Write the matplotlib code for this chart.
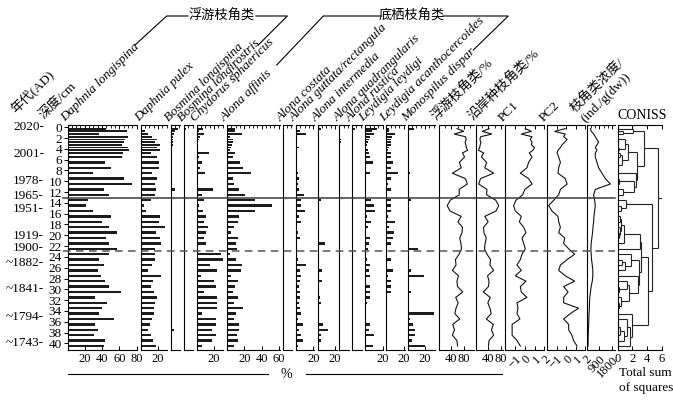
import numpy as np
import matplotlib.pyplot as plt
from matplotlib.lines import Line2D
from matplotlib.collections import LineCollection
from matplotlib.transforms import blended_transform_factory
from matplotlib.ticker import MultipleLocator

plt.rcParams['font.family'] = ['Liberation Serif', 'Noto Sans CJK SC']
plt.rcParams['font.size'] = 9
plt.rcParams['axes.linewidth'] = 0.8

# sample depths (cm)
depth = [0.25, 0.75, 1.25, 1.75, 2.25, 2.75, 3.25, 3.75, 4.25, 4.75,
         5.5, 6.5, 7.5, 8.5, 9.5, 10.5, 11.5, 12.5, 13.5, 14.5,
         15.5, 16.5, 17.5, 18.5, 19.5, 20.5, 21.5, 22.5, 23.5, 24.5,
         25.5, 26.5, 27.5, 28.5, 29.5, 30.5, 31.5, 32.5, 33.5, 34.5,
         35.5, 36.5, 37.5, 38.5, 39.5, 40.5]

age_labels = ['2020', '2001', '1978', '1965', '1951', '1919', '1900',
              '~1882', '~1841', '~1794', '~1743']
age_depth = [0, 5, 10, 12.7, 15.2, 20.2, 22.4, 25.2, 30, 35.1, 39.9]

# taxa (%)
d_longispina = [45, 69, 37, 70, 67, 65, 63, 70, 71, 64, 63, 44, 50, 30, 66, 75, 42, 48, 24, 22,
                29, 50, 40, 48, 57, 45, 48, 57, 48, 36, 42, 35, 39, 44, 48, 62, 32, 46, 40, 36,
                54, 32, 35, 31, 44, 42]
d_pulex = [2, 5, 8, 13, 19, 17, 22, 19, 22, 12, 19, 21, 21, 13, 19, 17, 18, 16, 12, 4,
           6, 22, 21, 28, 18, 22, 23, 16, 17, 17, 13, 8, 24, 14, 12, 15, 19, 16, 15, 15,
           13, 11, 9, 12, 14, 18]
b_longispina = [9, 5, 4, 3, 2.5, 3, 2.5, 0, 0, 0, 1, 1, 1, 0, 1, 0, 5, 2, 0, 0,
                0, 0, 0, 0, 0, 0, 0, 0, 0, 0, 0, 0, 0, 0, 0, 0, 2, 0, 0, 0,
                0, 1, 4, 0, 0, 0]
b_longirostris = [2, 1, 0, 0, 0, 0, 0, 0, 0, 0, 0, 0, 0, 0, 0, 0, 0, 0, 0, 0,
                  0, 0, 0, 0, 0, 0, 0, 0, 0, 0, 0, 0, 0, 0, 0, 0, 1, 0, 0, 0,
                  0, 0, 1, 0, 0, 0]
c_sphaericus = [7, 3, 8.5, 4, 3, 2, 2, 2, 1, 14, 3, 6, 4, 10, 1, 0, 19, 6, 9, 3,
                7, 11, 8, 13.5, 10.5, 8.5, 11, 2, 28, 31, 15.5, 23, 4.6, 20, 22.5, 8, 23, 23, 23, 6.5,
                22.5, 22.5, 17.5, 22.5, 17.5, 6]
a_affinis = [9, 9, 17, 3, 6.5, 6.5, 6, 5, 3, 9, 6.5, 15, 19, 28, 6.5, 8, 13.5, 20.5, 33, 52,
             32, 13.5, 13, 8, 4.5, 12.5, 10, 11.5, 4, 10, 17.5, 16, 4.6, 13, 9, 7, 12.5, 8.5, 18, 10.5,
             7.7, 13.5, 13.5, 11.6, 12.4, 8.5]
a_costata = [1, 0, 0, 0, 0, 0, 0, 0, 0, 0, 0, 0, 0, 0, 0, 0, 0, 0, 0, 2,
             0, 0, 0, 0, 0, 0, 0, 0, 0, 0, 0, 0, 0, 0, 0, 0, 0, 0, 0, 0,
             0, 0, 0, 0, 0, 0]
a_guttata = [0, 5, 11.6, 0, 1, 0, 1, 4, 0, 0, 0, 1, 1, 2, 4, 2, 3, 9, 6, 6,
             10, 4, 6, 0, 2, 5, 1, 0, 0, 2, 11.6, 5, 6, 5, 4, 5, 5, 4, 5, 6,
             2, 8, 4, 6, 8, 2]
a_intermedia = [4, 2, 2, 0, 0, 0, 0, 0, 0, 0, 0, 0, 0, 0, 0, 0, 0, 0, 4, 0,
                0, 0, 0, 0, 0, 0, 8, 0, 2, 0, 0, 5.5, 0, 5, 0, 0, 2.5, 3.5, 0, 0,
                0, 6, 12.5, 3.5, 3.5, 0]
a_quadrangularis = [0, 0, 1, 1, 2, 2, 1, 0, 0, 0, 0, 0, 0, 1, 0, 0, 0, 0, 1, 0,
                    1, 0, 0, 0, 0, 0, 0, 0, 0, 0, 0, 0, 0, 0, 0, 0, 0, 0, 0, 0,
                    0, 0, 0, 0, 0, 0]
a_rustica = [3, 0, 0, 0, 0, 0, 0, 0, 0, 0, 0, 0, 0, 0, 0, 0, 0, 0, 0, 0,
             0, 0, 0, 0, 0, 0, 0, 0, 0, 0, 0, 0, 0, 0, 0, 0, 0, 0, 0, 0,
             0, 0, 0, 0, 0, 0]
l_leydigi = [13, 8, 10, 6, 4, 3, 2, 1, 3, 4, 6, 9, 1, 5, 1, 1, 1, 0, 6.5, 10.5,
             11, 2, 6.5, 3, 1, 5, 4, 3, 0, 2, 6, 4, 6, 0, 5, 5, 6, 2, 1, 0,
             1, 5, 4, 10, 0, 8.5]
l_acanthocercoides = [3, 3, 10, 7, 5, 6, 5, 3, 2, 5, 5, 7.5, 5, 13.5, 5, 2, 5, 0, 5.5, 5.5,
                      5.5, 2, 10.5, 3.5, 8.5, 8, 5, 0, 0, 6, 1, 7.5, 2, 5, 5, 5, 0, 0, 0, 0,
                      0, 0, 0, 0, 0, 0]
m_dispar = [7, 0, 0, 0, 2, 0, 0, 0, 0, 0, 0, 0, 0, 3, 2, 0, 0, 0, 4, 0,
            0, 0, 1, 0, 0, 0, 0, 12, 0, 0, 0, 4, 18.6, 0, 1, 4, 1, 0, 0, 31,
            3, 6, 8, 8, 5, 20]

# summary curves
planktonic = [58, 80, 49, 86, 88, 85, 87, 89, 93, 76, 83, 66, 72, 43, 86, 92, 65, 66, 36, 26,
              35, 72, 61, 76, 75, 67, 71, 73, 65, 53, 55, 43, 63, 58, 60, 77, 54, 62, 55, 51,
              67, 44, 50, 43, 58, 60]
littoral = [42, 20, 51, 14, 12, 15, 13, 11, 7, 24, 17, 34, 28, 57, 14, 8, 35, 34, 64, 74,
            65, 28, 39, 24, 25, 33, 29, 27, 35, 47, 45, 57, 37, 42, 40, 23, 46, 38, 45, 49,
            33, 56, 50, 57, 42, 40]
pc1 = [0.05, 0.67, -0.36, 0.74, 0.56, 0.74, 0.67, 1.0, 0.84, 0.46, 0.74, 0.39, 0.22, -0.46, 0.39,
       0.74, 0.0, -0.22, -0.9, -1.15, -0.97, -0.36, -0.56, -0.12, 0.12, -0.29, -0.12, 0.05, -0.29,
       -0.46, -0.8, -0.36, -0.97, 0.12, -0.46, -0.36, 0.22, -0.8, -0.7, -0.8, -0.5, -1.3, -1.3,
       -1.3, -0.8, -0.46]
pc2 = [-0.1, -1.2, -0.1, -0.26, 0.1, -0.15, -0.43, -0.6, -0.85, -0.95, -0.78, -0.6, -0.78, -0.85,
       -0.1, 0.1, -0.6, -0.78, -1.3, -1.83, -1.48, -0.85, -0.78, -0.6, -0.78, -0.15, -0.26, 0.26,
       0.89, 0.1, -0.6, -0.78, -0.1, 0.89, -0.26, 0.2, -0.26, -0.26, 1.3, 0.43, -0.26, 0.26, 0.26,
       0.6, 0.78, 1.13]
conc = [240, 310, 480, 600, 720, 840, 720, 600, 720, 600, 600, 720, 840, 1080, 1320, 1690,
        600, 480, 550, 600, 550, 500, 480, 430, 400, 350, 300, 280, 300, 330, 380, 420, 420,
        380, 300, 250, 200, 180, 170, 150, 130, 120, 100, 90, 80, 80]

taxa = [
    ('Daphnia longispina', d_longispina, 67.5, 81, [20, 40, 60, 80]),
    ('Daphnia pulex', d_pulex, 140.7, 30, [20]),
    ('Bosmina longispina', b_longispina, 170.7, 11, []),
    ('Bosmina longirostris', b_longirostris, 184.0, 11, []),
    ('Chydorus sphaericus', c_sphaericus, 196.7, 31, [20]),
    ('Alona affinis', a_affinis, 227.0, 61, [20, 40, 60]),
    ('Alona costata', a_costata, 282.7, 11, []),
    ('Alona guttata/rectangula', a_guttata, 296.0, 20.5, [20]),
    ('Alona intermedia', a_intermedia, 317.7, 22, [20]),
    ('Alona quadrangularis', a_quadrangularis, 339.3, 11, []),
    ('Alona rustica', a_rustica, 352.0, 11.5, []),
    ('Leydigia leydigi', l_leydigi, 365.3, 21, [20]),
    ('Leydigia acanthocercoides', l_acanthocercoides, 386.3, 22, [20]),
    ('Monospilus dispar', m_dispar, 407.7, 32, [20]),
]

W, H = 673, 404
TOP, BOT = 124.7, 350.0
K = 0.8625  # px per percent
YLIM = (41.24, -0.48)

fig = plt.figure(figsize=(W / 100, H / 100), dpi=100)


def panel(x0, x1):
    ax = fig.add_axes([x0 / W, 1 - BOT / H, (x1 - x0) / W, (BOT - TOP) / H])
    ax.set_ylim(*YLIM)
    ax.spines['right'].set_visible(False)
    ax.set_yticks([])
    ax.patch.set_alpha(0)
    return ax


def xstyle(ax, major, labels, minor, rot=0):
    ax.set_xticks(major)
    ax.set_xticklabels(labels, rotation=rot,
                       ha='right' if rot else 'center',
                       rotation_mode='anchor' if rot else 'default')
    ax.xaxis.set_minor_locator(MultipleLocator(minor))
    ax.tick_params(axis='x', which='major', top=True, bottom=True, direction='in',
                   length=3, width=0.7, pad=2.5, labelsize=9)
    ax.tick_params(axis='x', which='minor', top=True, bottom=False, direction='in',
                   length=2, width=0.6)


def label(x_px, text, italic=False, y_px=121.5):
    fig.text(x_px / W, 1 - y_px / H, text, rotation=45, rotation_mode='anchor',
             ha='left', va='baseline', fontsize=9.5,
             style='italic' if italic else 'normal')


axes = []
bar_h = [0.32 if d < 5 else 0.42 for d in depth]
for name, vals, x0, xmax, ticks in taxa:
    ax = panel(x0, x0 + xmax * K)
    ax.barh(depth, vals, height=bar_h, color='#1c1c1c', linewidth=0)
    ax.set_xlim(0, xmax)
    xstyle(ax, [0] + ticks, [''] + [str(t) for t in ticks], 5)
    label(x0 - 2, name, italic=True)
    axes.append(ax)

ax0 = axes[0]
ax0.set_yticks(range(0, 41, 2))
ax0.tick_params(axis='y', left=True, direction='out', length=3, width=0.7, pad=1,
                labelsize=9.5)

curves = [
    ('浮游枝角类/%', planktonic, 439.3, 473.7, (0, 113), [0, 40, 80], ['', '40', '80'], 20, 0),
    ('沿岸种枝角类/%', littoral, 476.3, 502.7, (0, 87), [0, 40, 80], ['', '40', '80'], 20, 0),
    ('PC1', pc1, 505.3, 544.3, (-2, 2), [-2, -1, 0, 1, 2], ['', '−1', '0', '1', '2'], 1, 45),
    ('PC2', pc2, 547.0, 585.3, (-2, 2), [-2, -1, 0, 1, 2], ['', '−1', '0', '1', '2'], 1, 45),
    ('枝角类浓度/\n(ind./g(dw))', conc, 587.0, 614.7, (0, 2000), [0, 900, 1800],
     ['', '900', '1800'], 300, 45),
]
for name, vals, x0, x1, xl, mj, ml, mn, rot in curves:
    ax = panel(x0, x1)
    ax.plot(vals, depth, color='#111111', lw=0.8)
    ax.set_xlim(*xl)
    xstyle(ax, mj, ml, mn, rot)
    label(x0 - 3, name)
    axes.append(ax)

# CONISS on square-root transformed percentages (stratigraphically constrained)
X = np.sqrt(np.array([t[1] for t in taxa], dtype=float).T / 100.0)
groups = [dict(n=1, m=X[i], y=depth[i], h=0.0) for i in range(len(depth))]
segs = []
total = 0.0
while len(groups) > 1:
    costs = [g['n'] * q['n'] / (g['n'] + q['n']) * np.sum((g['m'] - q['m']) ** 2)
             for g, q in zip(groups[:-1], groups[1:])]
    i = int(np.argmin(costs))
    a, b = groups[i], groups[i + 1]
    total += costs[i]
    segs += [[(a['h'], a['y']), (total, a['y'])],
             [(b['h'], b['y']), (total, b['y'])],
             [(total, a['y']), (total, b['y'])]]
    n = a['n'] + b['n']
    groups[i:i + 2] = [dict(n=n, m=(a['m'] * a['n'] + b['m'] * b['n']) / n,
                            y=(a['y'] + b['y']) / 2, h=total)]
root = groups[0]
segs.append([(root['h'], root['y']), (root['h'] + 0.7, root['y'])])

axc = panel(617.7, 662.0)
axc.add_collection(LineCollection(segs, colors='#222222', linewidths=0.8))
axc.set_xlim(0, 6)
xstyle(axc, [0, 2, 4, 6], ['0', '2', '4', '6'], 2)
axc.tick_params(axis='x', which='minor', top=False)
fig.text(617 / W, 1 - 119 / H, 'CONISS', fontsize=10, ha='left', va='baseline')
fig.text(619 / W, 1 - 367 / H, 'Total sum\nof squares', fontsize=9.5, ha='left', va='top',
         linespacing=1.35)

# depth / age header
label(16, '年代(AD)', y_px=114)
label(44, '深度/cm', y_px=119)

tr = blended_transform_factory(fig.transFigure, ax0.transData)
for txt, d in zip(age_labels, age_depth):
    fig.text(44 / W, d, txt + '-', transform=tr, ha='right', va='center', fontsize=9.5)

# zone boundaries
fig.add_artist(Line2D([63 / W, 615 / W], [13.1, 13.1], transform=tr, color='#3a3a3a', lw=1.1))
fig.add_artist(Line2D([63 / W, 615 / W], [23.0, 23.0], transform=tr, color='#555555', lw=1.1,
                      dashes=(5, 3.5)))


def fig_line(xs, ys):
    fig.add_artist(Line2D([x / W for x in xs], [1 - y / H for y in ys], color='k', lw=0.8))


# group headers
fig.text(222 / W, 1 - 16 / H, '浮游枝角类', ha='center', va='center', fontsize=9.5)
fig_line([135, 166.7, 188], [45, 16, 16])
fig_line([256, 287.3, 258.3], [16, 16, 45])
fig.text(412 / W, 1 - 16 / H, '底栖枝角类', ha='center', va='center', fontsize=9.5)
fig_line([276.7, 323.3, 381.7], [65, 16, 16])
fig_line([443, 508.3, 473.3], [16, 16, 50])

# percent axis label
fig.text(286 / W, 1 - 374 / H, '%', ha='center', va='center', fontsize=10)
fig_line([68, 268], [374, 374])
fig_line([306, 502], [374, 374])

fig.savefig('out.png', dpi=100)
